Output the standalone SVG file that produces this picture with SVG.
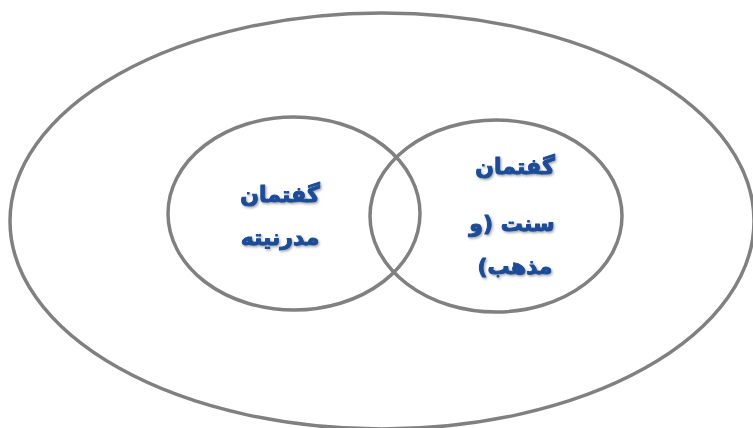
<svg xmlns="http://www.w3.org/2000/svg" width="753" height="428" viewBox="0 0 753 428">
<defs>
<style>
.ring{fill:none;stroke:#808080;stroke-width:3.5}
.lbl{font-family:"DejaVu Sans","Noto Sans",sans-serif;font-weight:bold;font-size:22px;fill:#1b4c98;stroke:#1b4c98;stroke-width:1;stroke-linejoin:round;text-anchor:middle;filter:url(#sh)}
</style>
<filter id="sh" x="-20%" y="-30%" width="140%" height="160%">
<feDropShadow dx="1.2" dy="1.5" stdDeviation="0.8" flood-color="#000" flood-opacity="0.35"/>
</filter>
</defs>
<rect width="753" height="428" fill="#fff"/>
<g id="outer">
<ellipse class="ring" cx="382" cy="221" rx="372" ry="208"/>
</g>
<g id="modernity">
<ellipse class="ring" cx="294" cy="213.5" rx="126" ry="96.5"/>
<text class="lbl" direction="rtl" x="280" y="202">گفتمان</text>
<text class="lbl" direction="rtl" x="280" y="245">مدرنیته</text>
</g>
<g id="tradition">
<ellipse class="ring" cx="496" cy="216" rx="126" ry="96"/>
<text class="lbl" direction="rtl" x="515" y="174">گفتمان</text>
<text class="lbl" direction="rtl" x="512" y="231">سنت (و</text>
<text class="lbl" direction="rtl" x="515" y="274">مذهب)</text>
</g>
<g id="connectors"></g>
</svg>
